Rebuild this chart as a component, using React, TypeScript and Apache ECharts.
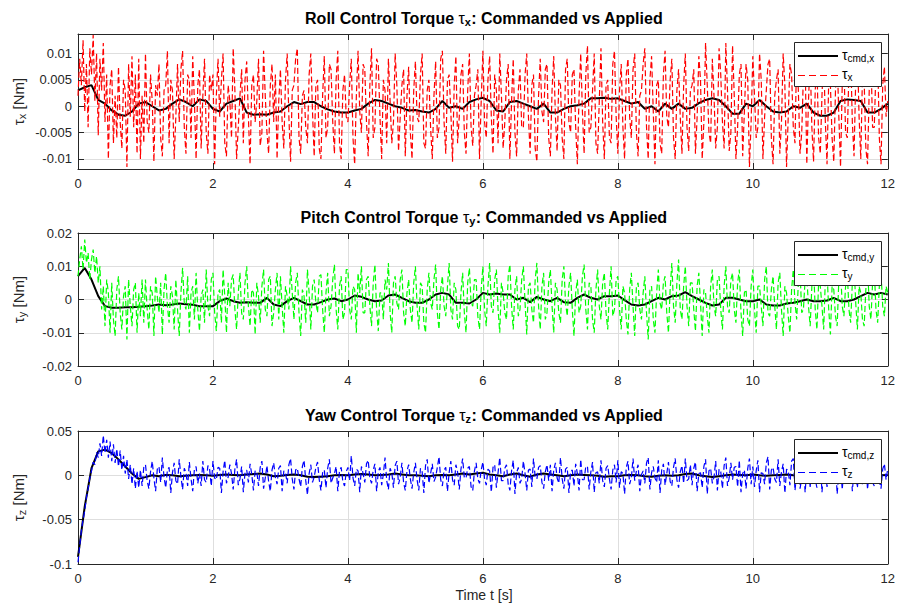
import React, { useEffect, useRef } from 'react';
import * as echarts from 'echarts';

const FONT = '"Liberation Sans", Arial, Helvetica, sans-serif';
const T_MAX = 12;

// ---- data (values in 1e-3 N·m); commanded sampled every 0.1 s, applied every 0.025 s ----
const cmdX = [
  3, 3.6, 4, 1.2, 0.5, -0.8, -1.6, -1.8, -1, 0.5,
  0.8, 0, -0.8, -0.5, 0.5, 1.3, 0.8, 0, 1.3, 1,
  -0.5, -1, 0.5, 1, 1.5, -1.2, -1.6, -1.5, -1.6, -1.2,
  -1, 0, 0.8, 0.4, 0.8, 0.8, 0, -0.6, -1, -1.2,
  -1.2, -0.8, -0.5, 0.5, 1.2, 1, 0.5, 0, -0.3, -0.8,
  -0.7, -1, -1.2, -0.5, 1, -0.3, 0, -0.5, 0.8, 1.3,
  1.6, 1, -0.8, -1, 0.8, 1, 0.5, 0, -0.5, 0.5,
  -1.2, -1.2, -0.5, 0, 0.2, 0.5, 1.5, 1.5, 1.6, 1.4,
  1.5, 1, 0.5, 0.8, -0.5, 0, -1, 0.5, -0.5, 0.5,
  -0.5, -0.3, 0.6, 1.2, 1.5, 1.2, 0, -1.4, -1.4, 0.5,
  0, 1.2, 0, -1, -1.2, -1, 0, -0.3, 0.5, -1.2,
  -1.8, -1.8, -1.2, 1, 1.3, 1.2, 1, -1.2, -1.2, -0.5,
  0.5,
];
const tauX = [
  2, 9, 4, 12.5, -1, 8, -4, 11, 6, 13.5, 1, 10, -5.5, 9, 3, 12, -3, 6, -10, 4, 7, -7, 2, -6, 7.5, -3, -8, 5, 3, -11.5, 8, -2, 9.5, -4, 6, -9, 9, -10, 2, -7,
  10, -3, -5, 6, 1, -10.5, 4, 2, 8, -6, -9.5, 3, 4, 10.5, -7, 5, 3, -10, -2, 8, -3, 7, 10.5, -4, -9, 6, 5, -6, 9.5, 1, -10, 4, 7, -8, 2, 9, -5, -9, 6, 3,
  6, -11, 2, 9, -2, 5, 10, -7, -9.5, 4, 1, -6, 11, 3, -10, -4, 2, 7, -7, 5, 8.5, -2, -11, 4, 6, -3, 1, 9, -7.5, -5, 10.5, 2, -5, -9, 4, 8, -3, 6, -10, 1,
  7, -3, -8, 5, 10, -2, -10.5, 3, 4, 9, 11, -6, -9, 2, 3, -4, -7, 6, 10, -1, -9.5, 4, 5, -8, -10, 2, 9.5, -6, -4, 8, 7, -3, -9, 5, 10.5, -7, -10, 3, 6, -2,
  -3, 4, 9, -6, -11, 2, 10.5, -1, -5, 8, 7, -3, -9.5, 4, 11, -6, -4, 9, 8, -2, -10, 5, 3, -7, 9, 1, -7, -3, 10, 4, -8.5, -2, 4, 7, -9.5, 2, 7.5, -5, -10, 3,
  8.5, -2, -3, 6, 10, -7, -8, 3, 5, -4, -10, 2, 8.5, -6, -4, 9, 10.5, -3, -9, 5, 6, -1, -10.5, 4, 9.5, -7, -2, 6, 8, -5, -9, 3, 10, -4, -7.5, 2, 4, 7, -10, 1,
  10.5, -3, -6, 5, 9.5, -2, -9, 6, 3, -7, 10, 2, -8, -3, 5, 8, -10, 1, 9, -5, -9.5, 3, 7, -4, -4, 6, 10, -2, -9, 4, 6, -8, -10.5, 2, 9, -1, -3, 7, 8, -6,
  -9.5, 3, 9.5, -2, -8.5, 5, 4, -6, -10, 7, 9, -3, -5, 6, 7, -4, -11, 2, 10, -1, -9, 6, 11.5, -5, -4, 3, 10, -7, -9, 1, 11, -3, -10, 4, 5, -6, -7, 8, 10.5, -2,
  -9, 3, 8, -4, -10, 6, 9, -2, -6, 7, 10, -5, -9.5, 2, 3, 8, 11, -4, -10, 5, 9.5, -1, -11, 4, 5, -7, -9, 6, 10.5, -2, -4, 5, 9, -6, -10, 3, 7, -2, -9, 4,
  10, -4, -8.5, 3, 4, 7, -9, -2, 9.5, 5, -10, -3, 12, 4, -5, -7, 9, 2, -8, -4, 11, 6, -3, -8, 12, 3, -8.5, -5, 11.5, 2, -10, -4, 6, 8, -9.5, -1, 8, 5, -11.5, -3,
  9.5, 2, -6, -4, 10, 5, -10, -2, 3, 8, 9, -6, -11, 2, 5, 7, -9, -3, 10, 4, -11.5, -2, 8, 6, -4, -7, 10, 3, -9, -5, 6, 9, -11, 1, 9, -4, -10.5, 3, 8, -6,
  -9, 2, 10, -3, -11, 5, 4, -6, -10.5, 3, 9.5, -2, -11.5, 4, 8, -5, -6, 7, 10, -3, -9.5, 5, 10.5, -2, -10, 6, 5, -8, -11, 3, 9.5, -4, -4, 7, 10, -6, -11, 4, 7.5, -2,
  1,
];
const cmdY = [
  7, 9.5, 6, 1, -2, -2.5, -2.5, -2.3, -2.3, -2.2,
  -2, -1.8, -1.5, -1.7, -1.5, -1.2, -1.4, -1.6, -2, -2,
  -2, -0.5, 0.3, -0.5, -1, -0.8, -1, -1, 0.5, -1.5,
  -2, -0.5, 0.5, -0.5, -1.5, -1.5, -0.8, 0, 0.3, -0.5,
  0, 1.2, 0.8, 0, -0.5, -0.3, 1.2, 1.5, 0.5, -0.5,
  -1, -1, 0, 1.5, 2, 1.5, -1, -1, -1.2, 0,
  2, 1.5, 1.8, 1.5, 1.5, 0, 0.5, -0.8, 0.8, 0,
  -0.5, 0.5, -0.8, -1, 0.5, 1.5, 0.5, 0, 1, 1,
  1.2, -0.2, -1.5, -1.8, -1.5, -0.5, 0.5, 0, 1, 1.2,
  2.2, 1, 0, -1, -1.8, -1.5, 0.5, 0.5, 0, -0.5,
  -0.5, 0, -1.5, -1.8, -1.8, -1.2, -1, -0.5, 0, -0.5,
  -0.5, -0.3, 0.5, -0.5, -0.5, 0, 1, 2, 1.5, 2,
  1.5,
];
const tauY = [
  7, 12, 16, 9, 18, 11, 14, 6, 12, 15, 8, 13, 5, 10, -3, 4, -8, 6, 2, -10, 5, -6, -11, 3, 7, -4, -9, 1, 4, -12, 6, -2, -8, 3, 5, -10, 2, -5, 6, -7,
  6, -3, -9, 4, 2, -11, 7, 1, -4, 5, -10.5, 3, 8, -2, -7, 4, 1, -9, 6, -3, -11, 2, 9.5, -1, -3, 7, -10, 2, 4, -6, 8, -3, -9.5, 1, 3, -7, 9, -2, -5, 6,
  8, -4, -9.5, 2, 3, -7, 9, 1, -10, 5, -2, 6, 7.5, -3, -9, 2, 8, -4, -6, 5, 10, -2, -8, 3, 2, -10.5, 5, 1, -7, 4, 9, -3, -5, 6, 7, -8, -4, 3, 8, -6,
  7, -2, -10, 4, 1, -3, 10, 2, -6, 5, 8, -4, -11, 3, 1, -7, 9, 2, -9, 4, 6, -1, -4, 7, 7.5, -3, -10, 2, 8, -5, -2, 6, 10.5, -3, -9, 4, 7, -6, -4, 9,
  9, -3, -6, 4, 3, -10, 8, 2, 10, -4, -4, 6, 7, -2, -8, 5, 10.5, -3, -9.5, 2, 2, -6, 6, 3, 11, -4, -10, 5, 7, -1, -3, 6, 9, -4, -8, 2, 6, -3, -7, 5,
  10, -2, -9, 5, 4, -7, -10, 3, 8, -1, -3, 6, 10.5, -4, -9, 3, 7, -2, -5, 4, 11, -3, -6, 5, 3, -8, -9, 2, 8, -4, -10, 5, 9.5, -1, -2, 6, 6, -5, -9, 3,
  10, -3, -8, 4, 11, -2, -4, 6, 9, -3, -10, 5, 2, -4, -6, 7, 10.5, -2, -9, 3, 7, -5, -3, 6, 10, -1, -10.5, 4, 5, -3, -7, 6, 11, -2, -9, 4, 8, -6, -4, 5,
  9, -2, -10, 5, 3, -4, -7, 6, 10, -1, -5, 4, 8, -3, -11, 2, 6, -4, -2, 7, 10.5, -3, -9, 5, 4, -6, -10, 3, 9, -2, -6, 5, 8, -4, -9, 2, 10, -5, -3, 6,
  7, -3, -9, 4, 2, -6, -10.5, 3, 8, -2, -11, 4, 5, -3, -6, 2, 7, -4, -12, 3, 4, -6, -10, 2, 9, -1, -3, 5, 7, -4, -10, 3, 11, -2, -7, 5, 12, -3, -6, 4,
  10, -2, -8, 5, 5, -3, -9.5, 4, 8, -1, -11, 3, 2, -5, -10, 4, 9, -2, -5, 6, 7, -3, -9, 4, 10, -2, -4, 6, 8, -3, -7, 5, 9, -4, -11, 2, 3, -6, -8, 4,
  9, -3, -10, 4, 4, -2, -8, 6, 10, -4, -5, 3, 7, -2, -9, 5, 8, -3, -11, 4, 2, -5, -10, 3, 9, -1, -6, 5, 8.5, -4, -3, 6, 7, -2, -8, 4, 10, -3, -9, 5,
  4, -2, -9, 6, 8, -3, -10.5, 4, 3, -5, -8, 6, 9.5, -2, -5, 4, 8, -3, -7, 5, 10.5, -1, -9, 4, 2, -6, -8, 3, 11, -2, -6, 5, 9, -3, -7, 4, 8, -2, -5, 4,
  2,
];
const cmdZ = [
  -92, -35, 8, 27, 29, 25, 18, 10, 2, -4,
  -2, 0, -1, 0.5, 0, -1, -0.5, 0, 0.5, 0,
  -0.5, 0.5, 1, 0.5, 0, 1, 1.5, 2, 1, -1,
  -0.5, 0.5, 1, 0, -1.5, -2, -1.5, -1, 0, 0.5,
  0, 1, 1.5, 1, 0, 0.5, 1, 2, 1, 0,
  0, -0.5, -1, 0, 0.5, 0, 1, 2, 1, 2,
  3, 1, 0, -1, 1, 2, 0, -1.5, 1, 2,
  1, 0, -1, 0, 1, 0.5, 0, -0.5, -1.5, -1,
  -1, 0, 0.5, 0, -1, -1.5, -0.5, 0, -0.5, 0,
  1.5, 2, 0, -1, -2, -1, 0, 1, 0.5, 0,
  1, 0, -0.5, 0, 0.5, 1, 0, -0.5, 0, 0.5,
  0, -0.5, 0, 0.5, 0, -0.5, 0, 1, 0.5, 0,
  0.5,
];
const tauZ = [
  -98, -80, -62, -50, -40, -25, -15, -3, 5, 15, 12, 26, 20, 36, 22, 45, 25, 40, 20, 38, 16, 35, 14, 30, 10, 28, 6, 22, 2, 18, -4, 12, -10, 8, -15, 5, -14, 6, -12, 9,
  12, -6, -15, 4, 16, -3, -18, 7, 10, -8, 20, -2, -14, 6, 9, -20, 3, 14, -6, -10, 18, -1, -16, 8, 3, -12, 15, -4, -18, 7, 10, -9, 2, -12, 16, -5, -8, 11, 7, -12,
  16, -3, -5, 9, 8, -20, 4, 17, -9, -2, 12, 2, -16, 7, 18, -11, -4, 10, -19, 3, 6, -8, 13, 1, -17, 5, 4, -12, 9, 16, -15, -3, 11, -7, -18, 6, 14, -2, -10, 8,
  11, -18, 5, 3, -9, 12, 19, -4, -16, 6, 8, -4, -13, 10, 17, -6, -22, 2, 12, -8, -2, 9, 15, -5, -17, 3, 6, -14, 8, 18, -9, -3, 2, 10, -18, 5, 9, -7, -12, 4,
  9, -6, 22, -3, -12, 7, 5, -19, 10, 2, -8, 13, 17, -3, -9, 6, 13, -18, 4, 9, -11, 1, 20, -6, -16, 8, 3, -14, 11, 16, -10, -2, 14, -8, -17, 5, 12, -4, -15, 3,
  14, -5, -17, 8, 4, -20, 11, 18, -9, 2, 13, -7, -2, 9, 21, -5, -12, 6, 9, -18, 3, 16, -5, -11, 12, 4, -16, 7, 19, -3, -3, 8, 10, -13, -17, 5, 14, -4, -9, 6,
  15, -4, -11, 7, 5, -19, 9, 12, -14, 3, 20, -6, -6, 8, 12, -10, -17, 5, 17, -21, 3, 9, -9, -4, 16, 2, -17, 6, 7, -13, 19, -2, -4, 9, 11, -8, -15, 4, 12, -6,
  12, -18, 6, 14, -3, -9, 20, -4, -15, 7, 9, -20, 4, 6, -12, 13, 2, -17, 18, -5, -5, 10, 10, -16, 4, 15, -19, 3, 4, -9, 17, -6, -13, 8, 11, -4, -16, 6, 12, -8,
  17, -14, 4, 2, -21, 9, 16, -10, -3, 19, -6, 5, 12, -18, 1, 5, -9, 14, 20, -16, 3, 10, -3, -8, 17, -20, 6, 13, -11, 2, 15, -7, -12, 9, 19, -5, -14, 4, 11, -9,
  19, -6, -4, 12, -11, 8, 15, -18, 2, 3, -14, 10, 18, -21, 5, 8, -9, -2, 16, -17, 7, 4, -15, 11, 20, -12, -3, 14, -5, 9, 10, -13, 17, -19, 2, 6, -15, 8, 19, -10,
  10, -13, 5, 17, -19, 3, 2, -10, 14, 21, -16, 6, 9, -4, -8, 18, -12, 4, 13, -20, 7, 5, -11, 16, 19, -17, 2, 10, -15, -3, 16, -19, 7, 6, -13, 11, 18, -4, -14, 8,
  16, -19, 4, 6, -13, 12, 18, -4, -9, 14, -21, 3, 11, -16, 8, 20, -7, -3, 15, -18, 6, 3, -14, 9, 22, -11, -4, 17, -16, 5, 10, -8, -12, 14, 19, -6, -15, 7, 13, -5,
  8,
];

const X_TICKS = [0, 2, 4, 6, 8, 10, 12];
const Y_TICKS_X = [-0.01, -0.005, 0, 0.005, 0.01];
const Y_TICKS_Y = [-0.02, -0.01, 0, 0.01, 0.02];
const Y_TICKS_Z = [-0.1, -0.05, 0, 0.05];

const panels = [
  { title: 'Roll Control Torque ', axis: 'x', cmd: cmdX, app: tauX, color: '#ff0000', yMin: -0.0119, yMax: 0.0137, yTicks: Y_TICKS_X },
  { title: 'Pitch Control Torque ', axis: 'y', cmd: cmdY, app: tauY, color: '#00ff00', yMin: -0.02, yMax: 0.02, yTicks: Y_TICKS_Y },
  { title: 'Yaw Control Torque ', axis: 'z', cmd: cmdZ, app: tauZ, color: '#0000ff', yMin: -0.1, yMax: 0.05, yTicks: Y_TICKS_Z },
];

const GRID_LEFT = 78;
const GRID_W = 812;
const GRID_TOPS = [34, 233, 431];
const GRID_H = [135, 133, 133];
const AXIS_COLOR = '#262626';
const GRID_COLOR = '#dedede';

const toPairs = (arr: number[]) => arr.map((v, i) => [(i * T_MAX) / (arr.length - 1), v / 1000]);

export default function App() {
  const ref = useRef<HTMLDivElement>(null);
  useEffect(() => {
    if (!ref.current) return;
    const chart = echarts.init(ref.current, undefined, { renderer: 'svg' });

    const grid: any[] = [];
    const xAxis: any[] = [];
    const yAxis: any[] = [];
    const series: any[] = [];
    const graphic: any[] = [];

    panels.forEach((p, i) => {
      grid.push({ left: GRID_LEFT, top: GRID_TOPS[i], width: GRID_W, height: GRID_H[i], containLabel: false });
    });
    panels.forEach((p, i) => {
      xAxis.push({
        type: 'value', gridIndex: i, min: 0, max: T_MAX, interval: 2, position: 'bottom',
        axisLine: { show: true, onZero: false, lineStyle: { color: AXIS_COLOR, width: 1 } },
        axisTick: { show: true, inside: true, length: 6, lineStyle: { color: AXIS_COLOR } },
        axisLabel: { show: true, color: AXIS_COLOR, fontSize: 13, fontFamily: FONT, margin: 8, customValues: X_TICKS },
        splitLine: { show: true, lineStyle: { color: GRID_COLOR, width: 1 } },
      });
    });
    panels.forEach((p, i) => {
      xAxis.push({
        type: 'value', gridIndex: i, min: 0, max: T_MAX, interval: 2, position: 'top',
        axisLine: { show: true, onZero: false, lineStyle: { color: AXIS_COLOR, width: 1 } },
        axisTick: { show: true, inside: true, length: 6, lineStyle: { color: AXIS_COLOR } },
        axisLabel: { show: false },
        splitLine: { show: false },
      });
    });
    panels.forEach((p, i) => {
      yAxis.push({
        type: 'value', gridIndex: i, min: p.yMin, max: p.yMax, position: 'left',
        axisLine: { show: true, onZero: false, lineStyle: { color: AXIS_COLOR, width: 1 } },
        axisTick: { show: true, inside: true, length: 6, lineStyle: { color: AXIS_COLOR }, customValues: p.yTicks },
        axisLabel: { show: true, color: AXIS_COLOR, fontSize: 13, fontFamily: FONT, margin: 6, customValues: p.yTicks },
        splitLine: { show: true, lineStyle: { color: GRID_COLOR, width: 1 } },
      });
    });
    panels.forEach((p, i) => {
      yAxis.push({
        type: 'value', gridIndex: i, min: p.yMin, max: p.yMax, position: 'right',
        axisLine: { show: true, onZero: false, lineStyle: { color: AXIS_COLOR, width: 1 } },
        axisTick: { show: true, inside: true, length: 6, lineStyle: { color: AXIS_COLOR }, customValues: p.yTicks },
        axisLabel: { show: false },
        splitLine: { show: false },
      });
    });

    panels.forEach((p, i) => {
      series.push({
        name: 'cmd_' + p.axis, type: 'line', xAxisIndex: i, yAxisIndex: i,
        data: toPairs(p.cmd), symbol: 'none', showSymbol: false, silent: true,
        lineStyle: { color: '#000000', width: 2 }, itemStyle: { color: '#000000' }, z: 2,
      });
      series.push({
        name: 'tau_' + p.axis, type: 'line', xAxisIndex: i, yAxisIndex: i,
        data: toPairs(p.app), symbol: 'none', showSymbol: false, silent: true,
        lineStyle: { color: p.color, width: 1.2, type: [6, 3] }, itemStyle: { color: p.color }, z: 3,
      });
    });

    const titleRich = {
      b: { fontSize: 16, fontWeight: 'bold', fontFamily: FONT, fill: '#000', lineHeight: 18, verticalAlign: 'middle' },
      t: { fontSize: 16, fontFamily: FONT, fill: '#000', lineHeight: 18, verticalAlign: 'middle' },
      s: { fontSize: 11, fontWeight: 'bold', fontFamily: FONT, fill: '#000', lineHeight: 10, verticalAlign: 'bottom' },
    };
    const labelRich = {
      t: { fontSize: 15, fontFamily: FONT, fill: AXIS_COLOR, lineHeight: 18, verticalAlign: 'middle' },
      s: { fontSize: 11, fontFamily: FONT, fill: AXIS_COLOR, lineHeight: 10, verticalAlign: 'bottom' },
    };
    const legRich = {
      t: { fontSize: 14, fontFamily: FONT, fill: '#000', lineHeight: 16, verticalAlign: 'middle' },
      s: { fontSize: 10, fontFamily: FONT, fill: '#000', lineHeight: 9, verticalAlign: 'bottom' },
    };

    panels.forEach((p, i) => {
      const gt = GRID_TOPS[i];
      const gh = GRID_H[i];
      const cx = GRID_LEFT + GRID_W / 2;
      graphic.push({
        type: 'text', x: cx, y: gt - 16, silent: true, z: 100,
        style: {
          text: '{b|' + p.title + '}{t|τ}{s|' + p.axis + '}{b|: Commanded vs Applied}',
          rich: titleRich, align: 'center', textAlign: 'center', verticalAlign: 'middle', textVerticalAlign: 'middle',
        },
      });
      graphic.push({
        type: 'text', x: 18, y: gt + gh / 2, rotation: Math.PI / 2, silent: true, z: 100,
        style: {
          text: '{t|τ}{s|' + p.axis + '}{t| [Nm]}',
          rich: labelRich, align: 'center', textAlign: 'center', verticalAlign: 'middle', textVerticalAlign: 'middle',
        },
      });
      const lx = 794;
      const ly = gt + 8;
      graphic.push({
        type: 'rect', silent: true, z: 100,
        shape: { x: lx + 0.5, y: ly + 0.5, width: 87, height: 44 },
        style: { fill: '#ffffff', stroke: AXIS_COLOR, lineWidth: 1 },
      });
      graphic.push({
        type: 'line', silent: true, z: 101,
        shape: { x1: lx + 4, y1: ly + 14, x2: lx + 44, y2: ly + 14 },
        style: { stroke: '#000000', lineWidth: 2 },
      });
      graphic.push({
        type: 'text', x: lx + 48, y: ly + 13, silent: true, z: 101,
        style: { text: '{t|τ}{s|cmd,' + p.axis + '}', rich: legRich, align: 'left', textAlign: 'left', verticalAlign: 'middle', textVerticalAlign: 'middle' },
      });
      graphic.push({
        type: 'line', silent: true, z: 101,
        shape: { x1: lx + 4, y1: ly + 33.5, x2: lx + 44, y2: ly + 33.5 },
        style: { stroke: p.color, lineWidth: 1.2, lineDash: [7, 4] },
      });
      graphic.push({
        type: 'text', x: lx + 48, y: ly + 32, silent: true, z: 101,
        style: { text: '{t|τ}{s|' + p.axis + '}', rich: legRich, align: 'left', textAlign: 'left', verticalAlign: 'middle', textVerticalAlign: 'middle' },
      });
    });

    graphic.push({
      type: 'text', x: GRID_LEFT + GRID_W / 2, y: 595, silent: true, z: 100,
      style: {
        text: 'Time t [s]', fill: AXIS_COLOR, fontSize: 14, fontFamily: FONT,
        align: 'center', textAlign: 'center', verticalAlign: 'middle', textVerticalAlign: 'middle',
      },
    });

    chart.setOption({
      animation: false,
      backgroundColor: '#ffffff',
      grid, xAxis, yAxis, series, graphic,
    });
    return () => chart.dispose();
  }, []);
  return <div ref={ref} style={{ position: 'absolute', left: 0, top: 0, width: 898, height: 603 }} />;
}
